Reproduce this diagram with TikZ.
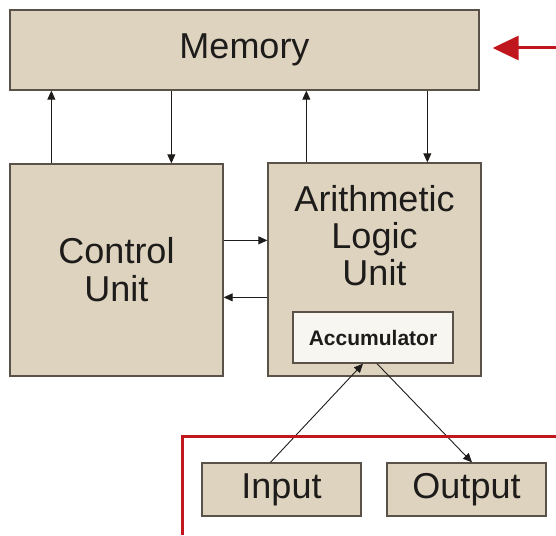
\documentclass[tikz,border=0pt]{standalone}
\usepackage{fontspec}
\setmainfont{Liberation Sans}
\usepackage{tikz}
\usetikzlibrary{arrows.meta}
\usetikzlibrary{positioning}

\definecolor{boxfill}{RGB}{222,211,191}
\definecolor{boxline}{RGB}{90,82,72}
\definecolor{accfill}{RGB}{248,246,241}
\definecolor{hlred}{RGB}{192,22,30}
\definecolor{txt}{RGB}{30,28,26}

\tikzset{
  unit/.style={draw=boxline, fill=boxfill, line width=1.3pt, inner sep=0pt,
    text=txt, align=center, font=\fontsize{36}{38}\selectfont},
  link/.style={-{Triangle[length=9pt,width=8pt]}, line width=0.9pt, draw=txt},
  mark red/.style={draw=hlred, line width=3pt}
}

\begin{document}
\begin{tikzpicture}[x=1pt, y=-1pt]%

\useasboundingbox (0,0) rectangle (556,535);

\node [unit, minimum width=469pt, minimum height=80pt] (memory) at (244.5,50) {Memory};

\node [unit, minimum width=213pt, minimum height=212pt] (control) at (116.5,270) {Control\\Unit};
\node [unit, minimum width=213pt, minimum height=213pt] (alu) at (374.5,269.5) {};
\node [text=txt, align=center, font=\fontsize{36}{37}\selectfont] (alu-text) at (374.5,236) {Arithmetic\\Logic\\Unit};

\node [unit, fill=accfill, minimum width=160pt, minimum height=51pt,
  font=\fontsize{21}{23}\selectfont\bfseries] (acc) at (373,337.5) {Accumulator};

\foreach \m/\x in {Input/281.5,Output/466.5}
  \node [unit, minimum width=159pt, minimum height=53pt] (io-\m) at (\x,489.5) {\m};

% memory links
\draw [link] ([xshift=42pt]control.north west) -- ([xshift=42pt]control.north west |- memory.south);
\draw [link] ([xshift=162pt]memory.south west) -- ([xshift=162pt]memory.south west |- control.north);
\draw [link] ([xshift=39pt]alu.north west) -- ([xshift=39pt]alu.north west |- memory.south);
\draw [link] ([xshift=418pt]memory.south west) -- ([xshift=418pt]memory.south west |- alu.north);

% control <-> alu
\draw [link] ([yshift=-77pt]control.north east) -- ([yshift=-77pt]control.north east -| alu.west);
\draw [link] ([yshift=-135pt]alu.north west) -- ([yshift=-135pt]alu.north west -| control.east);

% input / output
\draw [link] ([xshift=-11pt]io-Input.north) -- ([xshift=-10pt]acc.south);
\draw [link] ([xshift=4pt]acc.south) -- ([xshift=5.5pt]io-Output.north);

% highlight
\coordinate (red-start) at (556,48);
\draw [mark red, -{Triangle[length=26pt,width=24pt]}] (red-start) -- ([xshift=13pt]memory.east |- red-start);
\draw [mark red] (182,535) -- (182,436) -- (556,436);

\end{tikzpicture}
\end{document}
